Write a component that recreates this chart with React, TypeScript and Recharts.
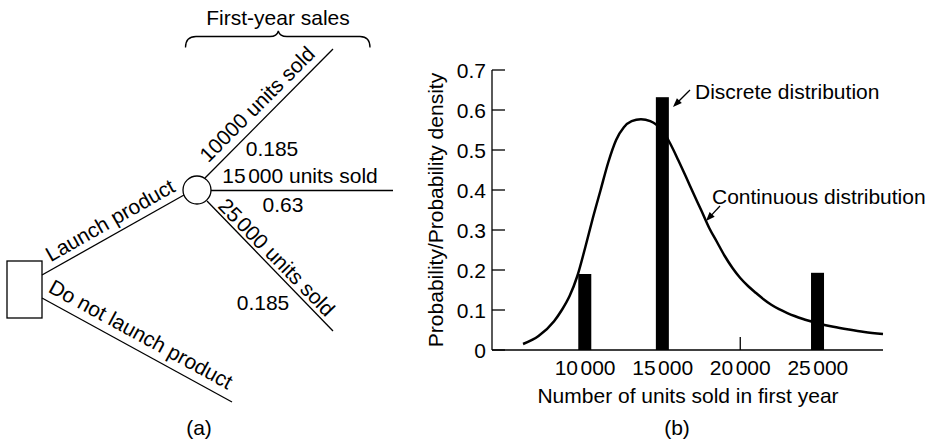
import { ComposedChart, Bar, Line, XAxis, YAxis } from 'recharts'

// discrete distribution (bars)
const unitsSold = [10000, 15000, 25000]
const discreteProb = [0.19, 0.632, 0.193]

// continuous distribution
const curveUnits = [
	6000, 7000, 8000, 8500, 9000, 9500, 10000, 10500, 11000, 11500, 12000, 12500, 13000, 13600, 14200, 14600,
	15000, 15500, 16000, 16500, 17000, 17500, 18000, 18500, 19000, 19500, 20000, 20500, 21000, 21500, 22000,
	22500, 23000, 23500, 24000, 25000, 26000, 27000, 28000, 29200,
]
const curveDensity = [
	0.015, 0.035, 0.072, 0.1, 0.135, 0.185, 0.255, 0.33, 0.4, 0.47, 0.525, 0.557, 0.572, 0.577, 0.572, 0.563,
	0.548, 0.515, 0.475, 0.433, 0.39, 0.348, 0.305, 0.27, 0.235, 0.205, 0.18, 0.16, 0.143, 0.127, 0.113,
	0.102, 0.093, 0.085, 0.078, 0.067, 0.058, 0.051, 0.045, 0.04,
]

const xTicks = [10000, 15000, 20000, 25000]
const yTicks = [0, 0.1, 0.2, 0.3, 0.4, 0.5, 0.6, 0.7]

// decision tree texts
const branchUnits = [10000, 15000, 25000]
const branchProbs = ['0.185', '0.63', '0.185']

const FONT = "'Liberation Sans', Arial, Helvetica, sans-serif"
const FS = 21

const barData = unitsSold.map((u, i) => ({ units: u, prob: discreteProb[i] }))
const curveData = curveUnits.map((u, i) => ({ units: u, density: curveDensity[i] }))

// "15 000" style with a narrow gap before the thousands
const Thousands = ({ v, gap = 2.5 }: { v: number; gap?: number }) => {
	const s = String(v)
	return (
		<>
			<tspan>{s.slice(0, s.length - 3)}</tspan>
			<tspan dx={gap}>{s.slice(-3)}</tspan>
		</>
	)
}

const XTick = (props: any) => {
	const { x, y, payload } = props
	return (
		<g>
			<line x1={x} y1={y} x2={x} y2={y - 13} stroke='#000' strokeWidth={1.3} />
			<text x={x} y={y + 17} textAnchor='middle' dominantBaseline='central' fontSize={FS} fontFamily={FONT} fill='#000'>
				<Thousands v={payload.value} />
			</text>
		</g>
	)
}

const YTick = (props: any) => {
	const { x, y, payload } = props
	return (
		<g>
			<line x1={x} y1={y} x2={x + 13} y2={y} stroke='#000' strokeWidth={1.3} />
			<text x={x - 6} y={y} textAnchor='end' dominantBaseline='central' fontSize={FS} fontFamily={FONT} fill='#000'>
				{payload.value === 0 ? '0' : payload.value.toFixed(1)}
			</text>
		</g>
	)
}

// fixed-width black bar centred on its category value
const BarShape = (props: any) => {
	const { x, y, width, height } = props
	if (!height) return null
	return <rect x={x + width / 2 - 6.5} y={y} width={13} height={height} fill='#000' />
}

const Arrow = ({ x1, y1, x2, y2 }: { x1: number; y1: number; x2: number; y2: number }) => {
	const dx = x2 - x1
	const dy = y2 - y1
	const len = Math.hypot(dx, dy)
	const ux = dx / len
	const uy = dy / len
	const hl = 9
	const hw = 3.5
	const bx = x2 - ux * hl
	const by = y2 - uy * hl
	const pts = `${x2},${y2} ${bx - uy * hw},${by + ux * hw} ${bx + uy * hw},${by - ux * hw}`
	return (
		<g>
			<line x1={x1} y1={y1} x2={bx + ux * 2} y2={by + uy * 2} stroke='#000' strokeWidth={1.3} />
			<polygon points={pts} fill='#000' />
		</g>
	)
}

const Label = ({ x, y, angle = 0, anchor = 'middle', children }: any) => (
	<text
		x={x}
		y={y}
		transform={angle ? `rotate(${angle}, ${x}, ${y})` : undefined}
		textAnchor={anchor}
		dominantBaseline='central'
		fontSize={FS}
		fontFamily={FONT}
		fill='#000'
	>
		{children}
	</text>
)

const Overlay = () => (
	<svg width={932} height={440} style={{ position: 'absolute', left: 0, top: 0, pointerEvents: 'none' }}>
		{/* (a) decision tree */}
		<g stroke='#000' strokeWidth={1.3} fill='none'>
			<rect x={7} y={261} width={35} height={57} fill='#fff' />
			<line x1={42} y1={275} x2={184} y2={195} />
			<line x1={42} y1={298} x2={232} y2={402} />
			<line x1={205} y1={178} x2={333} y2={49} />
			<line x1={211} y1={190.5} x2={393} y2={190.5} />
			<line x1={207} y1={201} x2={333} y2={331} />
			<circle cx={197} cy={190} r={14} fill='#fff' />
			<path d='M185.5,47.5 Q185.5,36.5 196,36.5 L270,36.5 Q277,36.5 278.3,31 Q279.6,36.5 287,36.5 L360,36.5 Q370,36.5 370,47.5' />
		</g>
		<Label x={278} y={17}>First-year sales</Label>
		<Label x={110} y={220} angle={-29.6}>Launch product</Label>
		<Label x={141} y={334} angle={28.6}>Do not launch product</Label>
		<Label x={257} y={104} angle={-45}>{branchUnits[0]} units sold</Label>
		<Label x={300} y={175}>
			<Thousands v={branchUnits[1]} /> units sold
		</Label>
		<Label x={277} y={257} angle={45.6}>
			<Thousands v={branchUnits[2]} /> units sold
		</Label>
		<Label x={272} y={148}>{branchProbs[0]}</Label>
		<Label x={283} y={204}>{branchProbs[1]}</Label>
		<Label x={263} y={302}>{branchProbs[2]}</Label>
		<Label x={199} y={427}>(a)</Label>

		{/* (b) annotations */}
		<Arrow x1={690} y1={90} x2={673} y2={107} />
		<Label x={695} y={91} anchor='start'>Discrete distribution</Label>
		<Arrow x1={720} y1={206} x2={706} y2={221} />
		<Label x={712} y={196} anchor='start'>Continuous distribution</Label>
		<Label x={435} y={210} angle={-90}>Probability/Probability density</Label>
		<Label x={688} y={395}>Number of units sold in first year</Label>
		<Label x={677} y={427}>(b)</Label>
	</svg>
)

export default function App() {
	return (
		<div style={{ position: 'absolute', left: 0, top: 0, width: 932, height: 440, background: '#fff' }}>
			<ComposedChart width={932} height={440} data={barData} margin={{ top: 70, right: 49, bottom: 89, left: 491 }}>
				<XAxis
					dataKey='units'
					type='number'
					domain={[4000, 29200]}
					ticks={xTicks}
					height={1}
					tickSize={0}
					tickMargin={0}
					tick={<XTick />}
					axisLine={{ stroke: '#000', strokeWidth: 1.3 }}
					tickLine={false}
					interval={0}
				/>
				<YAxis
					type='number'
					domain={[0, 0.7]}
					ticks={yTicks}
					width={1}
					tickSize={0}
					tickMargin={0}
					tick={<YTick />}
					axisLine={{ stroke: '#000', strokeWidth: 1.3 }}
					tickLine={false}
					interval={0}
				/>
				<Bar dataKey='prob' fill='#000' barSize={13} shape={<BarShape />} isAnimationActive={false} />
				<Line
					data={curveData}
					dataKey='density'
					type='monotone'
					stroke='#000'
					strokeWidth={2.5}
					dot={false}
					activeDot={false}
					isAnimationActive={false}
				/>
			</ComposedChart>
			<Overlay />
		</div>
	)
}
